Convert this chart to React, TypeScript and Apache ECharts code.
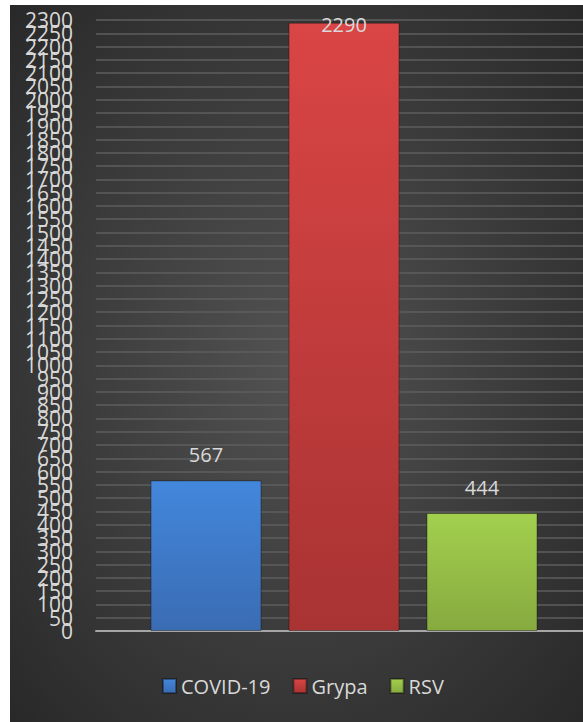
import React, { useEffect, useRef } from "react";
import * as echarts from "echarts";

const categories = ["COVID-19", "Grypa", "RSV"];
const seriesNames = ["COVID-19", "Grypa", "RSV"];
const values = [567, 2290, 444];
const yMin = 0;
const yMax = 2300;
const yStep = 50;

const colorsTop = ["#4387dc", "#da4545", "#a2d04e"];
const colorsBottom = ["#3a6cb3", "#a93333", "#87aa3f"];

export default function App() {
  const ref = useRef<HTMLDivElement>(null);
  useEffect(() => {
    document.body.style.margin = "0";
    const chart = echarts.init(ref.current!, undefined, { renderer: "svg" });
    const font = "'Open Sans', sans-serif";
    const series = seriesNames.map((name, i) => ({
      name,
      type: "bar",
      stack: "s",
      xAxisIndex: 1,
      yAxisIndex: 1,
      barWidth: 111,
      data: values.map((v, j) => (j === i ? v : "-")),
      itemStyle: {
        color: new echarts.graphic.LinearGradient(0, 0, 0, 1, [
          { offset: 0, color: colorsTop[i] },
          { offset: 1, color: colorsBottom[i] },
        ]),
        borderColor: "rgba(0,0,0,0.35)",
        borderWidth: 1,
      },
      label: {
        show: true,
        position: "top",
        distance: values[i] > 2200 ? -12 : 16,
        color: "#d9d9d9",
        fontSize: 20,
        fontFamily: font,
      },
    }));
    const labelBase = {
      color: "#d9d9d9",
      fontSize: 21,
      fontFamily: font,
      hideOverlap: false,
    };
    chart.setOption({
      animation: false,
      backgroundColor: new echarts.graphic.RadialGradient(0.5, 0.5, 0.75, [
        { offset: 0, color: "#525252" },
        { offset: 1, color: "#262626" },
      ]),
      grid: [
        { left: 86, right: 0, top: 15, bottom: 91 },
        { left: 127, width: 414, top: 15, bottom: 91 },
      ],
      legend: {
        data: seriesNames,
        left: 147,
        top: 666,
        icon: "rect",
        itemWidth: 13,
        itemHeight: 14,
        itemGap: 22,
        textStyle: { color: "#d9d9d9", fontSize: 20, fontFamily: font },
      },
      xAxis: [
        {
          type: "category",
          gridIndex: 0,
          data: categories,
          axisLine: { show: true, lineStyle: { color: "#a6a6a6", width: 2 } },
          axisTick: { show: false },
          axisLabel: { show: false },
        },
        {
          type: "category",
          gridIndex: 1,
          data: categories,
          axisLine: { show: false },
          axisTick: { show: false },
          axisLabel: { show: false },
        },
      ],
      yAxis: [
        {
          type: "value",
          gridIndex: 0,
          min: yMin,
          max: yMax,
          interval: yStep,
          axisLine: { show: false },
          axisTick: { show: false },
          axisLabel: {
            ...labelBase,
            margin: 23,
            showMinLabel: true,
            showMaxLabel: true,
            formatter: (v: number) => (v === yMin || v === yMax ? "" : String(v)),
          },
          splitLine: { lineStyle: { color: "#5e5e5e", width: 1.5 } },
        },
        {
          type: "value",
          gridIndex: 1,
          min: yMin,
          max: yMax,
          interval: yStep,
          axisLine: { show: false },
          axisTick: { show: false },
          axisLabel: {
            ...labelBase,
            margin: 64,
            showMinLabel: true,
            showMaxLabel: true,
            formatter: (v: number) => (v === yMin || v === yMax ? String(v) : ""),
          },
          splitLine: { show: false },
        },
      ],
      series,
    });
    return () => chart.dispose();
  }, []);
  return (
    <div
      ref={ref}
      style={{ position: "absolute", left: 10, top: 5, width: 573, height: 717 }}
    />
  );
}
